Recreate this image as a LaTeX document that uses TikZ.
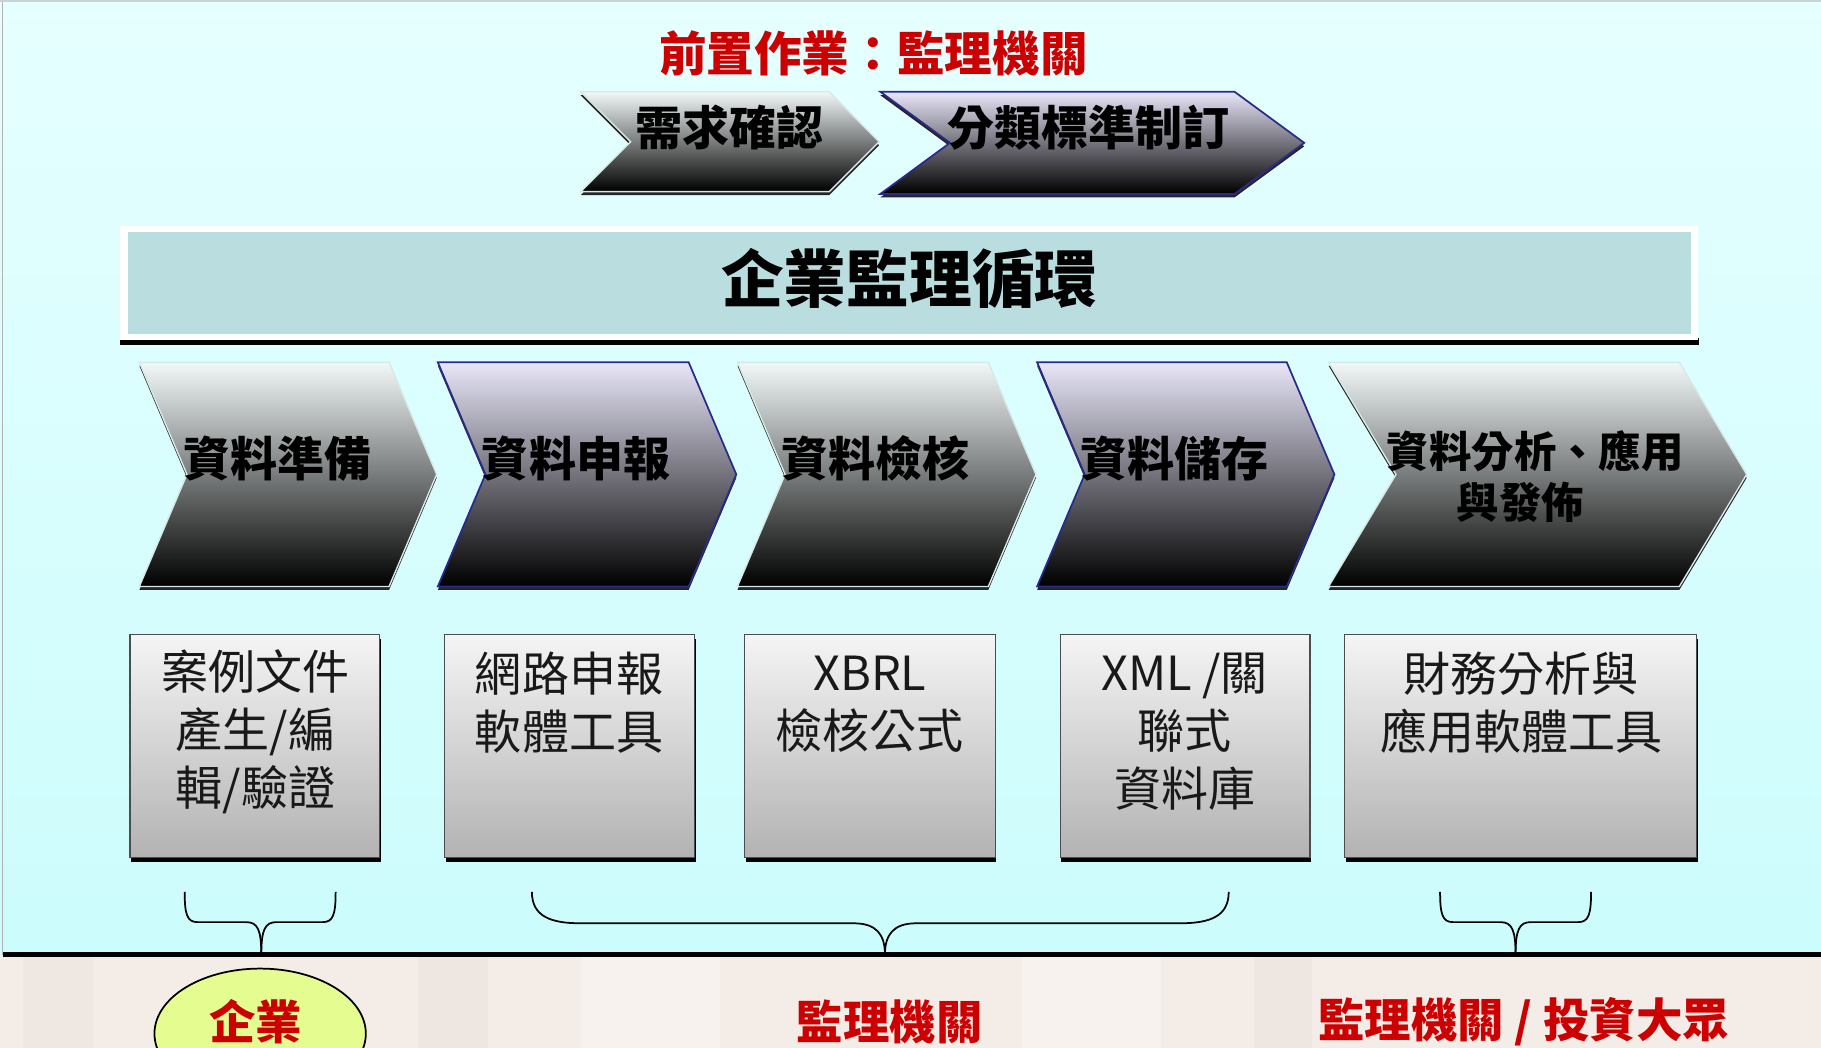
\documentclass[tikz,border=0pt]{standalone}
\usepackage{fontspec}
\newfontfamily\cjk{Noto Sans CJK TC}
\usetikzlibrary{shapes.geometric}
\definecolor{redt}{HTML}{CC0000}
\definecolor{bgtop}{HTML}{E6FFFF}
\definecolor{bgbot}{HTML}{CCFCFC}
\definecolor{beige}{HTML}{F4ECE6}
\definecolor{banner}{HTML}{BADEE0}
\definecolor{grtop}{HTML}{F2F8F8}
\definecolor{lvtop}{HTML}{E8E6F8}
\definecolor{lvline}{HTML}{2A2A8C}
\definecolor{grline}{HTML}{D6E8E8}
\definecolor{ellfill}{HTML}{E4FC90}
\tikzset{
  redtitle/.style={font=\cjk\bfseries\fontsize{41}{45}\selectfont, text=redt, inner sep=0pt},
  redlabel/.style={font=\cjk\bfseries\fontsize{40}{44}\selectfont, text=redt, inner sep=0pt},
  chevtext/.style={font=\cjk\bfseries\fontsize{40.5}{44}\selectfont, text=black, inner sep=0pt, align=center},
  chevtextsm/.style={font=\cjk\bfseries\fontsize{36.5}{44}\selectfont, text=black, inner sep=0pt, align=center},
  bannertext/.style={font=\cjk\bfseries\fontsize{54}{60}\selectfont, text=black, inner sep=0pt},
  boxtext/.style={font=\cjk\fontsize{40.5}{50}\selectfont, text=black!90, inner sep=0pt, align=center},
  chevfillg/.style={top color=grtop, bottom color=black},
  chevfillb/.style={top color=lvtop, bottom color=black},
  chevlineg/.style={draw=grline, line width=1.2pt},
  chevlineb/.style={draw=lvline, line width=1.5pt},
  chevshadow/.style={fill=black!85},
  boxfill/.style={top color=black!4, bottom color=black!30, draw=black!70, line width=1pt},
  bracel/.style={draw=black, line width=1.5pt},
  band/.style={opacity=0.35},
}
\newcommand\chev[6]{%
  \fill[chevshadow,yshift=-3pt] (#1,#4) -- (#3,#4) -- ({#3+#2},{(#4+#5)/2}) -- (#3,#5) -- (#1,#5) -- ({#1+#2},{(#4+#5)/2}) -- cycle;
  \shade[chevfill#6] (#1,#4) -- (#3,#4) -- ({#3+#2},{(#4+#5)/2}) -- (#3,#5) -- (#1,#5) -- ({#1+#2},{(#4+#5)/2}) -- cycle;
  \draw[chevline#6] (#1,#4) -- (#3,#4) -- ({#3+#2},{(#4+#5)/2}) -- (#3,#5) -- (#1,#5) -- ({#1+#2},{(#4+#5)/2}) -- cycle;
}
\newcommand\infobox[4]{%
  \fill[black] ({#1+1},{#2+4}) rectangle ({#3+1},{#4+4});
  \shade[boxfill] (#1,#2) rectangle (#3,#4);
}
\begin{document}
\begin{tikzpicture}[x=1pt,y=-1pt]
\useasboundingbox (0,0) rectangle (1568,902);
% backgrounds
\shade[top color=bgtop, bottom color=bgbot] (0,0) rectangle (1568,822);
\draw[black!30, line width=1pt] (2.5,0) -- (2.5,822);
\draw[cyan!30!black!25, line width=1.5pt] (0,0.75) -- (1568,0.75);
\fill[beige] (0,822) rectangle (1568,902);
\fill[band, white] (500,824) rectangle (620,902);
\fill[band, white] (880,824) rectangle (1000,902);
\fill[band, black!6!beige] (360,824) rectangle (420,902);
\fill[band, black!6!beige] (1080,824) rectangle (1130,902);
\fill[band, black!5!beige] (20,824) rectangle (80,902);
\draw[black, line width=4pt] (3,822) -- (1568,822);

% title
\node[redtitle] (title) at (752,46) {前置作業：監理機關};

% top chevrons
\chev{500}{43}{714}{79}{165}{g}
\chev{758}{60}{1063}{79}{167}{b}
\node[chevtext] (req) at (628,110) {需求確認};
\node[chevtext] (cls) at (937,110) {分類標準制訂};

% banner
\fill[black] (103,291) rectangle (1463,297);
\fill[white] (103,195) rectangle (1462,293);
\fill[banner] (110,200) rectangle (1456,288);
\node[bannertext] (cycle) at (783,240) {企業監理循環};

% row chevrons
\chev{120}{41}{335}{312}{505}{g}
\chev{377}{41}{593}{312}{505}{b}
\chev{635}{41}{851}{312}{505}{g}
\chev{893}{41}{1108}{312}{505}{b}
\chev{1144}{58}{1446}{312}{505}{g}
\node[chevtext] (c1) at (239,395) {資料準備};
\node[chevtext] (c2) at (496,395) {資料申報};
\node[chevtext] (c3) at (754,395) {資料檢核};
\node[chevtext] (c4) at (1011,395) {資料儲存};
\node[chevtextsm] (c5) at (1322,410) {資料分析、應用\\與發佈\hspace{26pt}\mbox{}};

% boxes
\infobox{112}{546}{327}{738}
\infobox{383}{546}{598}{738}
\infobox{641}{546}{857}{738}
\infobox{913}{546}{1128}{738}
\infobox{1158}{546}{1461}{738}
\node[boxtext] (b1) at (220,630) {案例文件\\產生/編\\輯/驗證};
\node[boxtext] (b2) at (490,605) {網路申報\\軟體工具};
\node[boxtext] (b3) at (749,606) {XBRL\\檢核公式};
\node[boxtext] (b4) at (1020,630) {XML /關\\聯式\\資料庫};
\node[boxtext] (b5) at (1310,605) {財務分析與\\應用軟體工具};

% braces
\draw[bracel] (159,768) .. controls (159,787) and (161,794) .. (170,794) -- (212,794) .. controls (222,794) and (225,801) .. (225,822);
\draw[bracel] (289,768) .. controls (289,787) and (287,794) .. (278,794) -- (238,794) .. controls (228,794) and (225,801) .. (225,822);
\draw[bracel] (458,768) .. controls (458,789) and (474,795) .. (500,795) -- (735,795) .. controls (755,795) and (762,805) .. (762,822);
\draw[bracel] (1058,768) .. controls (1058,789) and (1042,795) .. (1016,795) -- (789,795) .. controls (769,795) and (762,805) .. (762,822);
\draw[bracel] (1240,768) .. controls (1240,787) and (1242,794) .. (1251,794) -- (1292,794) .. controls (1302,794) and (1305,801) .. (1305,822);
\draw[bracel] (1370,768) .. controls (1370,787) and (1368,794) .. (1359,794) -- (1318,794) .. controls (1308,794) and (1305,801) .. (1305,822);

% bottom labels
\node[ellipse, draw=black, line width=1.5pt, fill=ellfill, minimum width=182pt, minimum height=112pt, inner sep=0pt] (ent) at (224,890) {};
\node[redlabel] (entl) at (220,880) {企業};
\node[redlabel] (reg) at (766,880) {監理機關};
\node[redlabel] (inv) at (1312,880) {監理機關 / 投資大眾};
\end{tikzpicture}
\end{document}
